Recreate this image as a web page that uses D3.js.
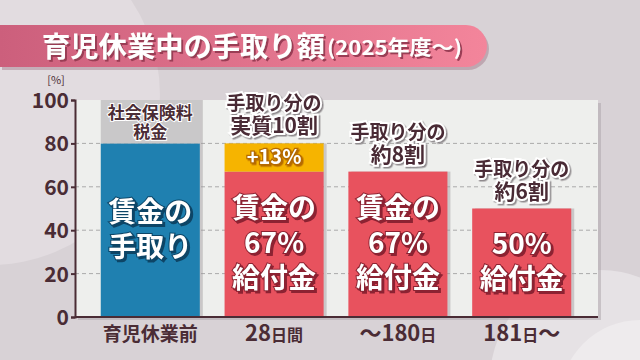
<!DOCTYPE html>
<html>
<head>
<meta charset="utf-8">
<script src="https://cdn.jsdelivr.net/npm/d3@7"></script>
<style>
  body { margin: 0; background: #d8d2d6; }
  svg { display: block; font-family: "Noto Sans CJK JP", "Noto Sans", sans-serif; }
</style>
</head>
<body>
<div id="chart"></div>
<script>
const categories = ["育児休業前", "28日間", "〜180日", "181日〜"];
const baseValues = [80, 67, 67, 50];
const topValues = [20, 13, 0, 0];
const yTicks = [0, 20, 40, 60, 80, 100];

const baseLabels = [["賃金の", "手取り"], ["賃金の", "67%", "給付金"], ["賃金の", "67%", "給付金"], ["50%", "給付金"]];
const topLabels = [["社会保険料", "税金"], ["+13%"], [], []];
const noteLabels = [[], ["手取り分の", "実質10割"], ["手取り分の", "約8割"], ["手取り分の", "約6割"]];

const baseColors = ["#1f80b0", "#e8525e", "#e8525e", "#e8525e"];
const baseShadow = ["#0b4466", "#8c2432", "#8c2432", "#8c2432"];
const topColors = ["#c9c8c9", "#f6b400", null, null];
const dark = "#4a2c35";

const width = 640, height = 360;
const svg = d3.select("#chart").append("svg")
    .attr("width", width)
    .attr("height", height);

const defs = svg.append("defs");

// drop shadow filters for the outlined texts
function shadowFilter(id, color, dx, dy) {
    const f = defs.append("filter").attr("id", id)
        .attr("x", "-20%").attr("y", "-30%").attr("width", "140%").attr("height", "160%");
    f.append("feDropShadow")
        .attr("dx", dx).attr("dy", dy).attr("stdDeviation", 0.4)
        .attr("flood-color", color).attr("flood-opacity", 1);
}
shadowFilter("sh-blue", "#0b4466", 2, 2);
shadowFilter("sh-red", "#8c2432", 2, 2);
shadowFilter("sh-yel", "#b56a00", 1.5, 1.5);
shadowFilter("sh-gray", "#8f8a8d", 1.5, 1.5);
shadowFilter("sh-title", "#9a3c55", 2, 2);

// several lines in one text element
function multiline(g, lines, cx, y0, lh, sizes) {
    const t = g.append("text").attr("text-anchor", "middle").style("font-weight", "bold");
    lines.forEach((s, k) => {
        t.append("tspan")
            .attr("x", cx)
            .attr("y", y0 + k * lh)
            .style("font-size", sizes[k] + "px")
            .text(s);
    });
    return t;
}

// background
svg.append("rect").attr("width", width).attr("height", height).attr("fill", "#d8d2d6");
svg.append("circle").attr("cx", -10).attr("cy", 95).attr("r", 170).attr("fill", "#e2dce0");
svg.append("circle").attr("cx", 600).attr("cy", 380).attr("r", 110).attr("fill", "#e6e2e5");
svg.append("circle").attr("cx", 640).attr("cy", 400).attr("r", 80).attr("fill", "#eeebed");

// title banner
const grad = defs.append("linearGradient").attr("id", "banner");
grad.append("stop").attr("offset", "0%").attr("stop-color", "#cc5f7c");
grad.append("stop").attr("offset", "100%").attr("stop-color", "#f3859b");

const bx = 487, by0 = 25, by1 = 67, br = (by1 - by0) / 2;
const bannerPath = `M0,${by0} H${bx - br} A${br},${br} 0 0 1 ${bx - br},${by1} H0 Z`;
svg.append("path").attr("d", bannerPath).attr("fill", "#8e5a6c").attr("opacity", 0.35)
    .attr("transform", "translate(2,3)");
svg.append("path").attr("d", bannerPath).attr("fill", "url(#banner)");

svg.append("text")
    .attr("x", 42).attr("y", 57)
    .attr("fill", "#ffffff")
    .attr("filter", "url(#sh-title)")
    .attr("textLength", 283).attr("lengthAdjust", "spacingAndGlyphs")
    .style("font-size", "28px").style("font-weight", "bold")
    .text("育児休業中の手取り額");
svg.append("text")
    .attr("x", 327).attr("y", 55)
    .attr("fill", "#ffffff")
    .attr("filter", "url(#sh-title)")
    .attr("textLength", 135).attr("lengthAdjust", "spacingAndGlyphs")
    .style("font-size", "20px").style("font-weight", "bold")
    .text("(2025年度〜)");

// plot area
const margin = { top: 100, right: 42, bottom: 43, left: 75 };
const graphWidth = width - margin.left - margin.right;
const graphHeight = height - margin.top - margin.bottom;

const graph = svg.append("g")
    .attr("transform", `translate(${margin.left},${margin.top})`);

const x = d3.scaleBand()
    .domain(categories)
    .range([1, graphWidth - 2])
    .paddingInner(0.2)
    .paddingOuter(0.2);

const y = d3.scaleLinear()
    .domain([0, 100])
    .range([graphHeight, 0]);

graph.append("rect")
    .attr("x", 3).attr("y", 3)
    .attr("width", graphWidth).attr("height", graphHeight)
    .attr("fill", "#a9a2a7").attr("opacity", 0.5);
graph.append("rect")
    .attr("width", graphWidth).attr("height", graphHeight)
    .attr("fill", "#eeefed");

// grid
graph.selectAll(".grid")
    .data(yTicks.filter(d => d > 0 && d < 100))
    .enter().append("line")
    .attr("x1", 0).attr("x2", graphWidth)
    .attr("y1", d => y(d)).attr("y2", d => y(d))
    .attr("stroke", "#aaaaaa")
    .attr("stroke-dasharray", "4,3");

// bars
const bars = graph.selectAll(".bar")
    .data(categories)
    .enter().append("g")
    .attr("transform", d => `translate(${x(d)},0)`);

bars.append("rect")
    .attr("x", 3).attr("y", (d, i) => y(baseValues[i] + topValues[i]))
    .attr("width", x.bandwidth())
    .attr("height", (d, i) => y(0) - y(baseValues[i] + topValues[i]))
    .attr("fill", "#9d979b").attr("opacity", 0.45);

bars.append("rect")
    .attr("y", (d, i) => y(baseValues[i]))
    .attr("width", x.bandwidth())
    .attr("height", (d, i) => y(0) - y(baseValues[i]))
    .attr("fill", (d, i) => baseColors[i]);

bars.filter((d, i) => topValues[i] > 0).append("rect")
    .attr("y", d => { const i = categories.indexOf(d); return y(baseValues[i] + topValues[i]); })
    .attr("width", x.bandwidth())
    .attr("height", d => { const i = categories.indexOf(d); return y(baseValues[i]) - y(baseValues[i] + topValues[i]); })
    .attr("fill", d => topColors[categories.indexOf(d)]);

const cx = x.bandwidth() / 2;

bars.each(function (d, i) {
    const g = d3.select(this);

    // text inside the main bar
    const lines = baseLabels[i];
    const mid = (y(baseValues[i]) + y(0)) / 2;
    const lh = 35;
    multiline(g, lines, cx, mid - (lines.length - 1) / 2 * lh + 9, lh, lines.map(() => 28))
        .attr("fill", "#ffffff")
        .attr("stroke", baseShadow[i]).attr("stroke-width", 2)
        .style("paint-order", "stroke")
        .attr("filter", i === 0 ? "url(#sh-blue)" : "url(#sh-red)");

    // top segment
    const tl = topLabels[i];
    if (tl.length) {
        const tmid = (y(baseValues[i] + topValues[i]) + y(baseValues[i])) / 2;
        const t = multiline(g, tl, cx, tmid - (tl.length - 1) / 2 * 19 + 6.5, 19,
            tl.map(() => i === 0 ? 17 : 20))
            .style("paint-order", "stroke");
        if (i === 0) {
            t.attr("fill", dark).attr("stroke", "#ffffff").attr("stroke-width", 2);
        } else {
            t.attr("fill", "#ffffff").attr("stroke", "#b56a00").attr("stroke-width", 2.5)
                .attr("filter", "url(#sh-yel)");
        }
    }

    // note above bar
    const nl = noteLabels[i];
    if (nl.length) {
        const top = y(baseValues[i] + topValues[i]);
        multiline(g, nl, cx, top - 33, 23, [19, 21])
            .attr("fill", dark)
            .attr("stroke", "#ffffff").attr("stroke-width", 4)
            .style("paint-order", "stroke")
            .attr("filter", "url(#sh-gray)");
    }
});

// axes
const yAxis = d3.axisLeft(y).tickValues(yTicks).tickSize(4).tickPadding(2);
const yAxisGroup = graph.append("g").call(yAxis);
yAxisGroup.select(".domain").attr("stroke", dark).attr("stroke-width", 2);
yAxisGroup.selectAll(".tick line").attr("stroke", dark).attr("stroke-width", 2);
yAxisGroup.selectAll(".tick text")
    .attr("fill", dark)
    .attr("dy", "0.36em")
    .style("font-family", "'Noto Sans CJK JP', sans-serif")
    .style("font-size", "21px").style("font-weight", "bold");

graph.append("line")
    .attr("x1", 0).attr("x2", graphWidth)
    .attr("y1", graphHeight).attr("y2", graphHeight)
    .attr("stroke", dark).attr("stroke-width", 2);

svg.append("text")
    .attr("x", 56).attr("y", 84)
    .attr("text-anchor", "middle")
    .attr("fill", dark)
    .style("font-size", "11px")
    .text("[%]");

// category labels (numbers big, kanji small)
graph.selectAll(".xlab")
    .data(categories)
    .enter().append("text")
    .attr("x", d => x(d) + cx)
    .attr("y", graphHeight + 24)
    .attr("text-anchor", "middle")
    .attr("fill", dark)
    .style("font-weight", "bold")
    .each(function (d) {
        const t = d3.select(this);
        if (d === categories[0]) {
            t.append("tspan").style("font-size", "19px").text(d);
            return;
        }
        d.match(/[0-9〜]+|[^0-9〜]+/g).forEach(part => {
            t.append("tspan")
                .style("font-size", /[0-9〜]/.test(part) ? "22px" : "16px")
                .text(part);
        });
    });
</script>
</body>
</html>
